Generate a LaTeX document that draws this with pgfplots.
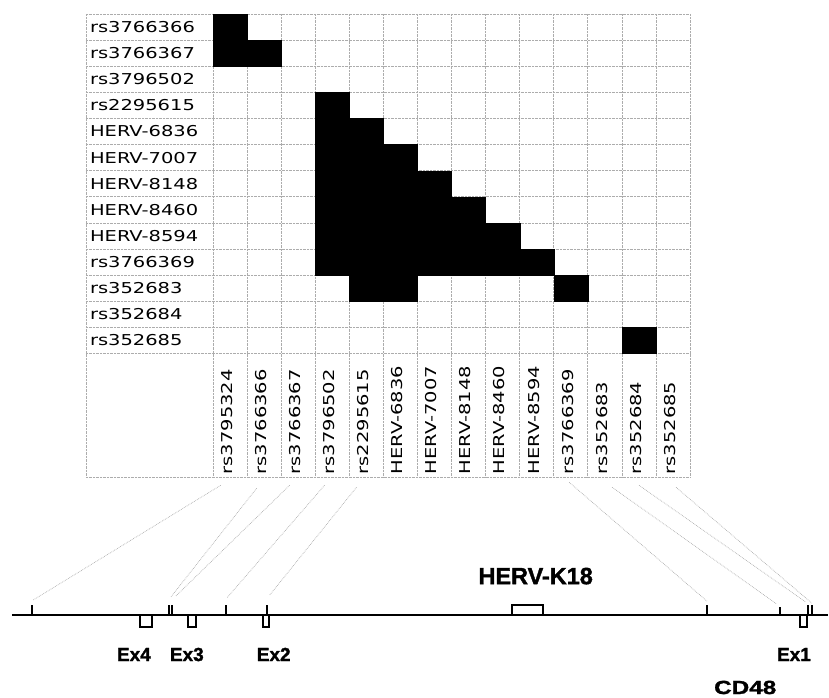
\documentclass[border=0pt]{standalone}
\usepackage{pgfplots}
\pgfplotsset{compat=1.18}
\usepackage{pgfplotstable}
\usepackage{fontspec}
\setmainfont{DejaVu Sans}
\newfontfamily\lab[FakeStretch=1.3]{DejaVu Sans}
\newfontfamily\bld[FakeBold=1.5]{Liberation Sans}
\newfontfamily\bldw[FakeStretch=1.28,FakeBold=1.5]{Liberation Sans}

% cells in strong LD (column, row), 0-based
\pgfplotstableread{
col row
0 0
0 1
1 1
3 3
3 4
4 4
3 5
4 5
5 5
3 6
4 6
5 6
6 6
3 7
4 7
5 7
6 7
7 7
3 8
4 8
5 8
6 8
7 8
8 8
3 9
4 9
5 9
6 9
7 9
8 9
9 9
4 10
5 10
10 10
12 12
}\ldcells

\newcommand{\rl}[2]{\node[anchor=base west,inner sep=0pt,font=\lab\fontsize{15}{15}\selectfont] at (axis cs:-4.114,#1+0.21) {#2};}
\newcommand{\cl}[2]{\node[anchor=base west,rotate=90,inner sep=0pt,font=\lab\fontsize{15}{15}\selectfont] at (axis cs:#1+0.07,17.13) {#2};}

\begin{document}
\begin{tikzpicture}
% gene map in pixel frame
\begin{axis}[at={(0pt,0pt)}, anchor=south west,
  width=829pt, height=699pt, scale only axis,
  xmin=0, xmax=829, ymin=0, ymax=699, y dir=reverse,
  hide axis, clip=false]
\addplot[draw=none] coordinates {(0,0) (829,699)};
% links from matrix columns to positions
\addplot[gray!65, densely dotted, line width=0.7pt] coordinates {(221,486) (33,601)};
\addplot[gray!65, densely dotted, line width=0.7pt] coordinates {(257,489) (171,598)};
\addplot[gray!65, densely dotted, line width=0.7pt] coordinates {(290,486) (176,597)};
\addplot[gray!65, densely dotted, line width=0.7pt] coordinates {(325,486) (227,599)};
\addplot[gray!65, densely dotted, line width=0.7pt] coordinates {(357,488) (270,596)};
\addplot[gray!65, densely dotted, line width=0.7pt] coordinates {(570,483) (708,602)};
\addplot[gray!65, densely dotted, line width=0.7pt] coordinates {(613,488) (778,605)};
\addplot[gray!65, densely dotted, line width=0.7pt] coordinates {(640,486) (807,603)};
\addplot[gray!65, densely dotted, line width=0.7pt] coordinates {(677,488) (813,604)};
% SNP ticks
\addplot[black, line width=1.8pt] coordinates {(32,606) (32,616)};
\addplot[black, line width=1.8pt] coordinates {(169,606) (169,616)};
\addplot[black, line width=1.8pt] coordinates {(172.5,606) (172.5,616)};
\addplot[black, line width=1.8pt] coordinates {(226,606) (226,616)};
\addplot[black, line width=1.8pt] coordinates {(267,606) (267,616)};
\addplot[black, line width=1.8pt] coordinates {(708,606) (708,616)};
\addplot[black, line width=1.8pt] coordinates {(781,608) (781,616)};
\addplot[black, line width=1.8pt] coordinates {(809.5,606) (809.5,616)};
\addplot[black, line width=1.8pt] coordinates {(813.5,606) (813.5,616)};
% exons and HERV-K18
\addplot[black, line width=1.8pt, fill=white] coordinates {(140,616) (140,628) (152,628) (152,616) (140,616)};
\addplot[black, line width=1.8pt, fill=white] coordinates {(188,616) (188,628) (196,628) (196,616) (188,616)};
\addplot[black, line width=1.8pt, fill=white] coordinates {(263,616) (263,628) (269,628) (269,616) (263,616)};
\addplot[black, line width=1.8pt, fill=white] coordinates {(801,616) (801,628) (808,628) (808,616) (801,616)};
\addplot[black, line width=1.8pt, fill=white] coordinates {(513,616) (513,606) (544,606) (544,616) (513,616)};
% chromosome line
\addplot[black, line width=2.4pt] coordinates {(12,616) (829,616)};
\node[anchor=base west, inner sep=0pt, font=\bld\bfseries\fontsize{23.5}{24}\selectfont] at (axis cs:479,585) {HERV-K18};
\node[anchor=base west, inner sep=0pt, font=\bld\bfseries\fontsize{19}{19}\selectfont] at (axis cs:117,662) {Ex4};
\node[anchor=base west, inner sep=0pt, font=\bld\bfseries\fontsize{19}{19}\selectfont] at (axis cs:170,662) {Ex3};
\node[anchor=base west, inner sep=0pt, font=\bld\bfseries\fontsize{19}{19}\selectfont] at (axis cs:257,662) {Ex2};
\node[anchor=base west, inner sep=0pt, font=\bld\bfseries\fontsize{19}{19}\selectfont] at (axis cs:778,662) {Ex1};
\node[anchor=base west, inner sep=0pt, font=\bldw\bfseries\fontsize{19}{19}\selectfont] at (axis cs:715,695) {CD48};
\end{axis}

% LD matrix with its label cells
\begin{axis}[at={(86pt,685pt)}, anchor=north west,
  width=605pt, height=464pt, scale only axis,
  xmin=-4.231, xmax=13.5, ymin=-0.5, ymax=17.242, y dir=reverse,
  xtick={-4.231,-0.5,0.5,1.5,2.5,3.5,4.5,5.5,6.5,7.5,8.5,9.5,10.5,11.5,12.5,13.5},
  ytick={-0.5,0.5,1.5,2.5,3.5,4.5,5.5,6.5,7.5,8.5,9.5,10.5,11.5,12.5,17.242},
  xticklabels={}, yticklabels={}, major tick length=0pt,
  grid=major, grid style={gray!65, densely dotted, line width=0.6pt},
  axis line style={draw=none}, clip=false]
\addplot[only marks, mark=square*, mark size=13.077pt,
  mark options={xscale=1.3047, fill=black, draw=black, line width=0.2pt}]
  table[x=col, y=row] {\ldcells};
\rl{0}{rs3766366}
\rl{1}{rs3766367}
\rl{2}{rs3796502}
\rl{3}{rs2295615}
\rl{4}{HERV-6836}
\rl{5}{HERV-7007}
\rl{6}{HERV-8148}
\rl{7}{HERV-8460}
\rl{8}{HERV-8594}
\rl{9}{rs3766369}
\rl{10}{rs352683}
\rl{11}{rs352684}
\rl{12}{rs352685}
\cl{0}{rs3795324}
\cl{1}{rs3766366}
\cl{2}{rs3766367}
\cl{3}{rs3796502}
\cl{4}{rs2295615}
\cl{5}{HERV-6836}
\cl{6}{HERV-7007}
\cl{7}{HERV-8148}
\cl{8}{HERV-8460}
\cl{9}{HERV-8594}
\cl{10}{rs3766369}
\cl{11}{rs352683}
\cl{12}{rs352684}
\cl{13}{rs352685}
\end{axis}
\end{tikzpicture}
\end{document}
